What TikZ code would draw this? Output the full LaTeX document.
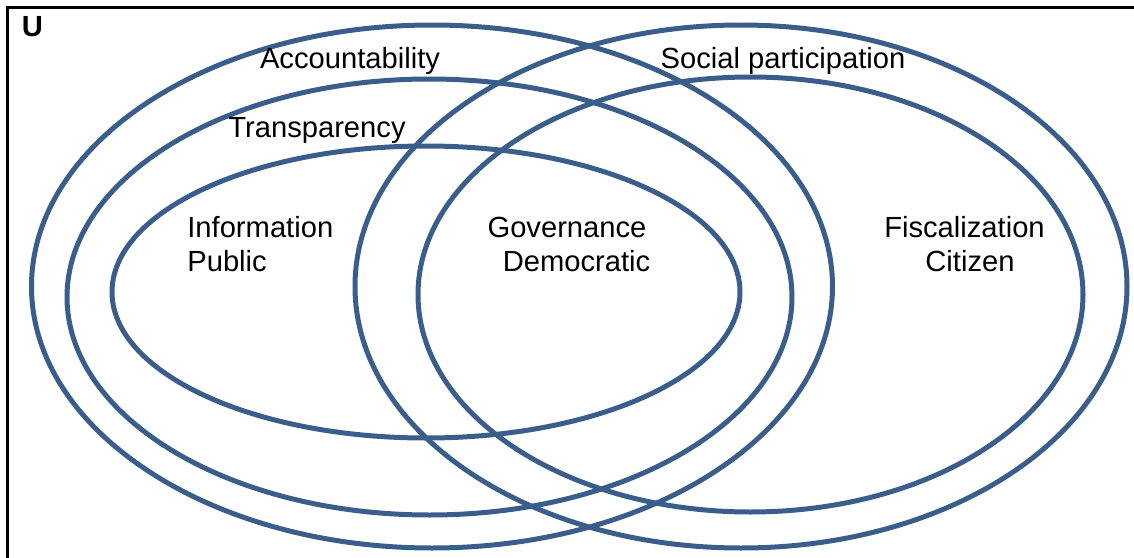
\documentclass[tikz,border=0pt]{standalone}
\usepackage{fontspec}
\setmainfont{Liberation Sans}
\usepackage{xcolor}
\usepackage{tikz}
\usetikzlibrary{positioning}

\definecolor{setblue}{RGB}{58,94,140}

\begin{document}
\begin{tikzpicture}[x=0.02cm,y=-0.02cm,
  setline/.style={line width=0.1cm, draw=setblue},
  setlabel/.style={font=\fontsize{16.6}{19}\selectfont, inner sep=0pt, anchor=base}]

% Fix the page to the picture size
\useasboundingbox (0,0) rectangle (1134,558);
\clip (0,0) rectangle (1134,558);

% Define centres of the sets
\coordinate (LO) at (432,286.5);
\coordinate (LM) at (429.5,297);
\coordinate (LI) at (426,292);
\coordinate (RO) at (741,286.5);
\coordinate (RI) at (750.5,294.5);

% Draw the universe frame
\draw[line width=0.05cm] (7.5,570) -- (7.5,7.5) -- (1150,7.5);
\node[setlabel, font=\bfseries\fontsize{16.6}{19}\selectfont] (universe) at (32.5,36) {U};

% Draw the left sets
\draw[setline] (LO) ellipse [x radius=400.5*0.02cm, y radius=261.5*0.02cm];
\draw[setline] (LM) ellipse [x radius=362.5*0.02cm, y radius=218*0.02cm];
\draw[setline] (LI) ellipse [x radius=314*0.02cm, y radius=146*0.02cm];

% Draw the right sets
\draw[setline] (RO) ellipse [x radius=386*0.02cm, y radius=261.5*0.02cm];
\draw[setline] (RI) ellipse [x radius=332.5*0.02cm, y radius=217.5*0.02cm];

% Add labels for the sets
\node[setlabel] (account) at (350,68) {Accountability};
\node[setlabel] (transp) at (317,137) {Transparency};
\node[setlabel] (social) at (783,68) {Social participation};

% Add labels for the regions
\node[setlabel, anchor=base west] (info) at (187,237) {Information};
\node[setlabel, anchor=base west] (public) at (187,271) {Public};
\node[setlabel] (govern) at (567,237) {Governance};
\node[setlabel] (democ) at (576.5,271) {Democratic};
\node[setlabel] (fiscal) at (964.5,237) {Fiscalization};
\node[setlabel] (citizen) at (970,271) {Citizen};

\end{tikzpicture}
\end{document}
